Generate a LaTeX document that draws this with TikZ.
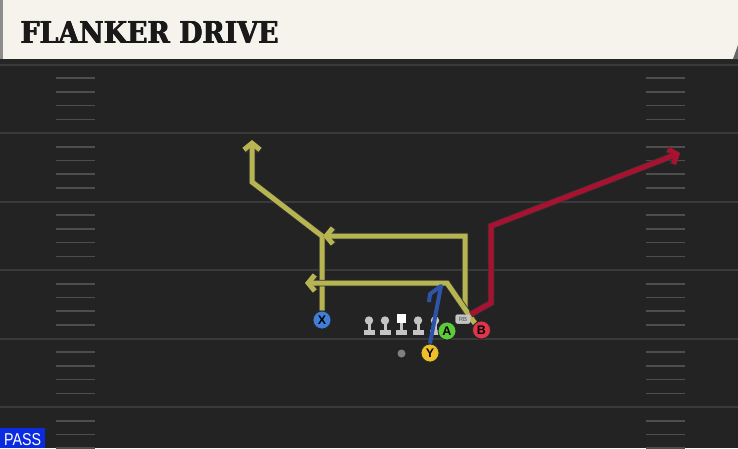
\documentclass[tikz,border=0pt]{standalone}
\usepackage{fontspec}
\usepackage{graphicx}
\newfontfamily\titlefont{DejaVu Serif}
\newfontfamily\labelfont{Liberation Sans}
\usetikzlibrary{arrows.meta}
\tikzset {>=Stealth}
\definecolor{field}{HTML}{232323}
\definecolor{yardline}{HTML}{3A3A3A}
\definecolor{header}{HTML}{F5F3EC}
\definecolor{routeyellow}{HTML}{B7B452}
\definecolor{routered}{HTML}{A81230}
\definecolor{routeblue}{HTML}{2D54A8}
\definecolor{xblue}{HTML}{3F7FD8}
\definecolor{agreen}{HTML}{5DCB3A}
\definecolor{bred}{HTML}{E0344A}
\definecolor{yyellow}{HTML}{EDBF2A}
\definecolor{lineman}{HTML}{C4C4C4}
\definecolor{passblue}{HTML}{0B2BE0}
\tikzset{
  player/.style={circle,draw=black!85,line width=0.8pt,minimum size=18pt,inner sep=0pt,
    font=\labelfont\bfseries\fontsize{12.5}{12.5}\selectfont},
  rbtag/.style={fill=lineman,rounded corners=2pt,minimum width=15pt,minimum height=9pt,inner sep=0pt,
    font=\labelfont\fontsize{6}{6}\selectfont,text=black!70},
  route/.style={line width=5pt,preaction={draw=black!80,line width=6.5pt}},
  barb/.style={-{Straight Barb[length=6.5pt,width=16pt]}}
}
\newcommand*{\flankertitle}{\resizebox{258pt}{22pt}{\titlefont\bfseries FLANKER DRIVE}}

\begin{document}
\begin{tikzpicture}[x=1pt,y=-1pt]
\useasboundingbox (0,0) rectangle (738,448);
\fill[field] (0,0) rectangle (738,448);
\fill[black!85] (0,59) rectangle (738,64);
\foreach \i in {0,...,5} {
  \draw[yardline,line width=2pt] (0,64.5+68.5*\i) -- (738,64.5+68.5*\i);
  \foreach \k in {1,...,4} {
    \draw[yardline!90,line width=1.6pt] (56,64.5+68.5*\i+13.7*\k) -- (95,64.5+68.5*\i+13.7*\k);
    \draw[yardline!90,line width=1.6pt] (646,64.5+68.5*\i+13.7*\k) -- (685,64.5+68.5*\i+13.7*\k);
  }
}
\fill[header] (0,0) rectangle (738,59);
\fill[black!45] (0,0) rectangle (3,59);
\fill[black!60] (738,45) -- (738,59) -- (733,59) -- cycle;
\foreach \dx in {0,0.4,0.8} {
  \node[anchor=base west,inner sep=0pt,text=black!90] at (20+\dx,43) {\flankertitle};
}
\node[anchor=base west,inner sep=0pt,text=black!90] (title) at (20.4,43.4) {\flankertitle};
\fill[passblue] (0,428) rectangle (45,448);
\node[anchor=base west,inner sep=0pt,text=white] (pass) at (4,445)
  {\resizebox{37pt}{12pt}{\labelfont PASS}};

\node[player,fill=xblue] (X) at (322,320) {X};
\node[player,fill=yyellow] (Y) at (430,353) {Y};
\node[rbtag] (RB) at (463,319) {RB};
\node[player,fill=bred] (B) at (481.5,330) {B};

\draw[route,routeyellow,barb] (X.north) -- (322,236) -- (252,182) -- (252,140);
\draw[route,routeyellow,barb] (B.north west) -- (465,310) -- (465,236) -- (323,236);
\draw[route,routeyellow,barb] (B.north west) -- (447,283) -- (305,283);
\draw[route,routered,barb] (RB.north east) -- (491,303) -- (491,226) -- (680,153);

\foreach \x in {369,385,418,435} {
  \fill[lineman] (\x,320.5) circle (4.2);
  \fill[lineman] (\x-1.5,323) rectangle (\x+1.5,330);
  \fill[lineman] (\x-5.5,330) rectangle (\x+5.5,335);
}
\fill[white] (397,313.5) rectangle (406,322.5);
\fill[lineman] (400,322.5) rectangle (403,330);
\fill[lineman] (396,330) rectangle (407,335);
\fill[black!50] (401.5,353.5) circle (4);

\draw[routeblue,line width=4pt,line join=round] (Y.north) -- (441,286) -- (430,294) -- (429,302);

\node[player,fill=xblue] at (X) {X};
\node[player,fill=yyellow] at (Y) {Y};
\node[player,fill=agreen] (A) at (447,331) {A};
\node[rbtag] at (RB) {RB};
\node[player,fill=bred] at (B) {B};
\end{tikzpicture}
\end{document}
